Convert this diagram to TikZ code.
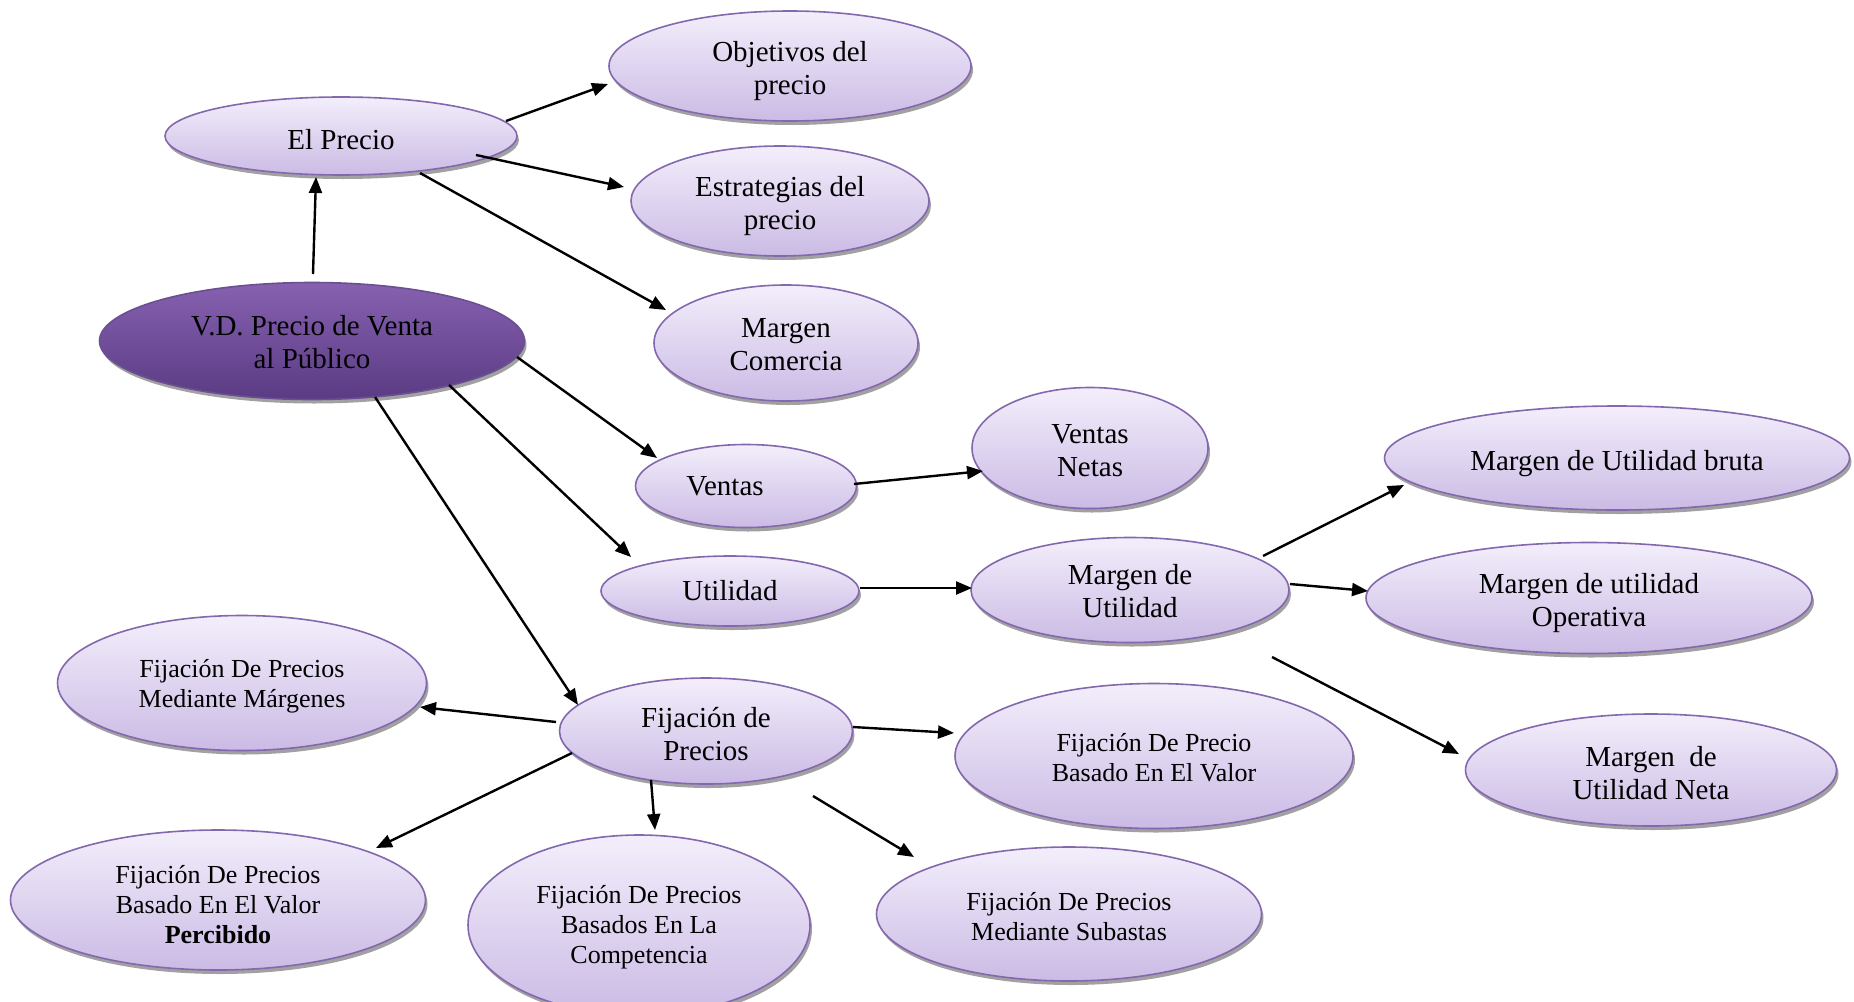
\documentclass[tikz,border=0pt]{standalone}
\usepackage{fontspec}
\setmainfont{Liberation Serif}
\usetikzlibrary{shapes.geometric,arrows.meta,shadows,calc}

\definecolor{bubtop}{HTML}{F3EEFB}
\definecolor{bubbot}{HTML}{CBBBE5}
\definecolor{bubline}{HTML}{8468AE}
\definecolor{maintop}{HTML}{8661B0}
\definecolor{mainbot}{HTML}{5B3B84}
\definecolor{mainline}{HTML}{6A5090}
\definecolor{shadowcol}{HTML}{7A7A7A}

% raises the first line box so the text sits about #1 pt lower in its ellipse
\newcommand{\lowertext}[1]{\rule{0pt}{\dimexpr0.70em+#1pt+#1pt\relax}}

\begin{document}
\begin{tikzpicture}[x=1pt,y=-1pt,
  bub/.style={ellipse, draw=bubline, line width=1.6pt,
    top color=bubtop, bottom color=bubbot, inner sep=0pt, align=center,
    drop shadow={shadow xshift=2pt, shadow yshift=-4pt, fill=shadowcol, opacity=0.7}},
  mainbub/.style={bub, draw=mainline, top color=maintop, bottom color=mainbot},
  sz/.style 2 args={minimum width=#1pt, minimum height=#2pt},
  big/.style={font=\fontsize{29}{33}\selectfont},
  small/.style={font=\fontsize{26}{30}\selectfont},
  arr/.style={line width=2.4pt, -{Triangle[length=16pt,width=13pt]}}
]
\fill[white] (0,0) rectangle (1854,1001);
\useasboundingbox (0,0) rectangle (1854,1001);

% upper branch
\node[bub,big,sz={362}{110}] (obj)   at (790,66)  {\lowertext{5}Objetivos del\\precio};
\node[bub,big,sz={352}{78}] (precio) at (341,136) {\lowertext{3.5}El Precio};
\node[bub,big,sz={298}{110}] (estr)  at (780,201) {\lowertext{5}Estrategias del\\precio};
\node[bub,big,sz={264}{116}] (mcom)  at (786,343) {\lowertext{1}Margen\\Comercia};
\node[mainbub,big,sz={425}{117}] (vd) at (312,341) {\lowertext{1}V.D. Precio de Venta\\al Público};

% sales and profit
\node[bub,big,sz={221}{83}]  (ventas) at (746,486) {Ventas\hspace*{42pt}};
\node[bub,big,sz={236}{121}] (vnetas) at (1090,448) {\lowertext{2}Ventas\\Netas};
\node[bub,big,sz={258}{70}]  (util)   at (730,591) {Utilidad};
\node[bub,big,sz={318}{105}] (mutil)  at (1130,590) {\lowertext{1}Margen de\\Utilidad};
\node[bub,big,sz={465}{104}] (bruta)  at (1617,458) {\lowertext{5}Margen de Utilidad bruta};
\node[bub,big,sz={446}{111}] (oper)   at (1589,598) {\lowertext{5}Margen de utilidad\\Operativa};
\node[bub,big,sz={371}{112}] (neta)   at (1651,770) {\lowertext{2.5}Margen\ \ de\\Utilidad Neta};

% pricing methods
\node[bub,big,sz={293}{106}]   (fij)    at (706,731) {\lowertext{3}Fijación de\\Precios};
\node[bub,small,sz={369}{135}] (marg)   at (242,683) {\lowertext{3.5}Fijación De Precios\\Mediante Márgenes};
\node[bub,small,sz={398}{145}] (valor)  at (1154,756) {\lowertext{2}Fijación De Precio\\Basado En El Valor};
\node[bub,small,sz={415}{140}] (perc)   at (218,900) {\lowertext{5}Fijación De Precios\\Basado En El Valor\\\textbf{Percibido}};
\node[bub,small,sz={342}{180}] (comp)   at (639,925) {\lowertext{2}Fijación De Precios\\Basados En La\\Competencia};
\node[bub,small,sz={385}{134}] (subast) at (1069,914) {\lowertext{2.5}Fijación De Precios\\Mediante Subastas};

% connectors
\draw[arr] ($(vd)+(1,-67)$)      -- ($(precio)+(-25,41)$);
\draw[arr] ($(precio)+(165,-15)$) -- ($(obj)+(-182,18)$);
\draw[arr] ($(precio)+(135,19)$)  -- ($(estr)+(-156,-14)$);
\draw[arr] ($(precio)+(79,37)$)   -- ($(mcom)+(-120,-33)$);
\draw[arr] ($(vd)+(205,16)$)      -- ($(ventas)+(-89,-28)$);
\draw[arr] ($(vd)+(137,44)$)      -- ($(util)+(-99,-34)$);
\draw[arr] ($(vd)+(63,56)$)       -- ($(fij)+(-128,-26)$);
\draw[arr] ($(ventas)+(108,-2)$)  -- ($(vnetas)+(-107,23)$);
\draw[arr] ($(util)+(130,-3)$)    -- ($(mutil)+(-158,-2)$);
\draw[arr] ($(mutil)+(133,-34)$)  -- ($(bruta)+(-213,27)$);
\draw[arr] ($(mutil)+(160,-6)$)   -- ($(oper)+(-221,-7)$);
\draw[arr] ($(mutil)+(142,67)$)   -- ($(neta)+(-192,-16)$);
\draw[arr] ($(fij)+(-150,-9)$)    -- ($(marg)+(178,24)$);
\draw[arr] ($(fij)+(147,-4)$)     -- ($(valor)+(-200,-23)$);
\draw[arr] ($(fij)+(-134,22)$)    -- ($(perc)+(158,-52)$);
\draw[arr] ($(fij)+(-55,49)$)     -- ($(comp)+(16,-95)$);
\draw[arr] ($(fij)+(107,65)$)     -- ($(subast)+(-155,-57)$);
\end{tikzpicture}
\end{document}
